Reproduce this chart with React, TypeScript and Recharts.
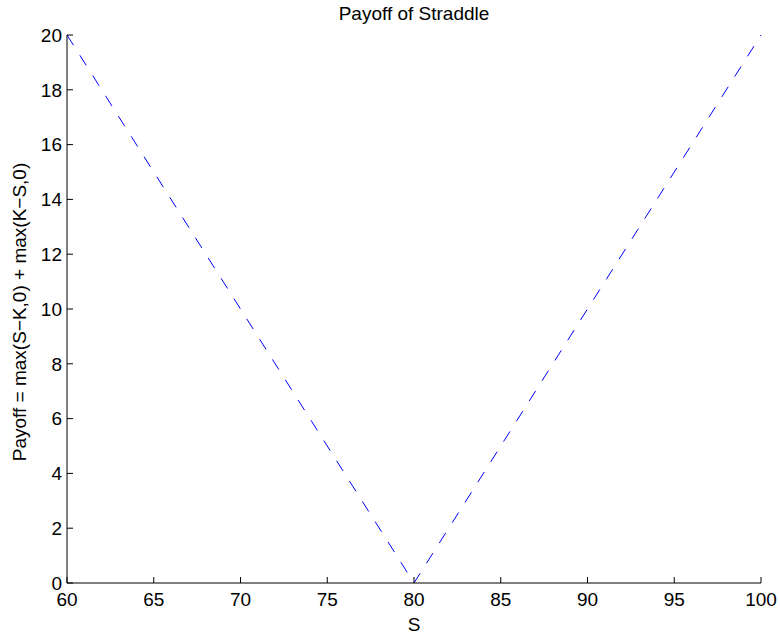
import React from "react"
import { LineChart, Line, XAxis, YAxis } from "recharts"

const sValues = [60, 65, 70, 75, 80, 85, 90, 95, 100]
const payoff = [20, 15, 10, 5, 0, 5, 10, 15, 20]
const xTicks = [60, 65, 70, 75, 80, 85, 90, 95, 100]
const yTicks = [0, 2, 4, 6, 8, 10, 12, 14, 16, 18, 20]

const data = sValues.map((s, i) => ({ s, payoff: payoff[i] }))

const font = "'Liberation Sans', Arial, Helvetica, sans-serif"
const tickStyle = { fill: "#000", fontSize: 19, fontFamily: font }

export default function App() {
  return (
    <div style={{ position: "absolute", left: 0, top: 0, width: 780, height: 634, background: "#fff", fontFamily: font }}>
      <LineChart width={780} height={634} data={data} margin={{ top: 35, right: 19, bottom: 0, left: 0 }}>
        <XAxis
          dataKey="s"
          type="number"
          domain={[60, 100]}
          ticks={xTicks}
          height={51}
          tickSize={-6}
          tickMargin={16}
          stroke="#000"
          tick={tickStyle}
        />
        <XAxis
          xAxisId="top"
          orientation="top"
          dataKey="s"
          type="number"
          domain={[60, 100]}
          ticks={xTicks}
          height={0}
          tickSize={-6}
          stroke="#000"
          tickFormatter={() => ""}
        />
        <YAxis
          type="number"
          domain={[0, 20]}
          ticks={yTicks}
          width={67}
          tickSize={-6}
          tickMargin={11}
          stroke="#000"
          tick={tickStyle}
        />
        <YAxis
          yAxisId="right"
          orientation="right"
          type="number"
          domain={[0, 20]}
          ticks={yTicks}
          width={0}
          tickSize={-6}
          stroke="#000"
          tickFormatter={() => ""}
        />
        <Line
          dataKey="payoff"
          stroke="#0000ff"
          strokeWidth={1}
          strokeDasharray="12 12"
          dot={false}
          isAnimationActive={false}
        />
        <Line
          xAxisId="top"
          yAxisId="right"
          dataKey="payoff"
          stroke="none"
          dot={false}
          isAnimationActive={false}
        />
      </LineChart>
      <div style={{ position: "absolute", left: 67, width: 694, top: 3, textAlign: "center", fontSize: 19 }}>
        Payoff of Straddle
      </div>
      <div style={{ position: "absolute", left: 67, width: 694, top: 614, textAlign: "center", fontSize: 19 }}>
        S
      </div>
      <div
        style={{
          position: "absolute",
          left: 20,
          top: 312,
          transform: "translate(-50%, -50%) rotate(-90deg)",
          whiteSpace: "nowrap",
          fontSize: 19,
        }}
      >
        Payoff = max(S−K,0) + max(K−S,0)
      </div>
    </div>
  )
}
